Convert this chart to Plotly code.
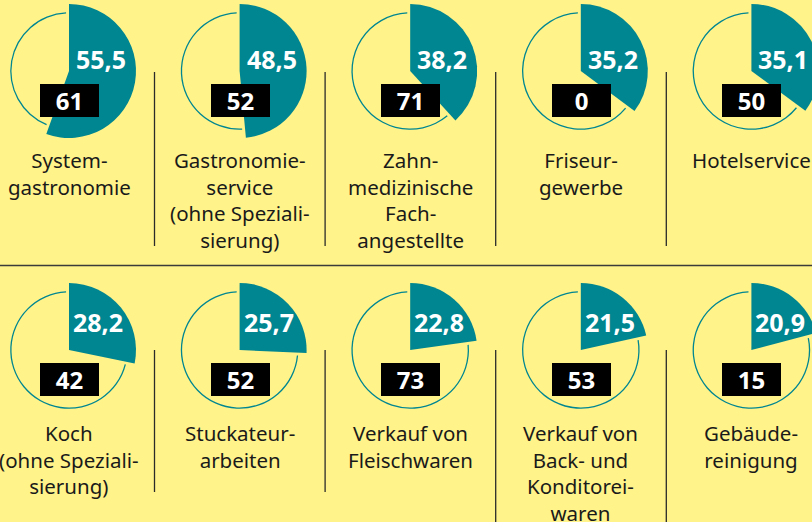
import plotly.graph_objects as go

# ---- data ----
categories = [
    "System-<br>gastronomie",
    "Gastronomie-<br>service<br>(ohne Speziali-<br>sierung)",
    "Zahn-<br>medizinische<br>Fach-<br>angestellte",
    "Friseur-<br>gewerbe",
    "Hotelservice",
    "Koch<br>(ohne Speziali-<br>sierung)",
    "Stuckateur-<br>arbeiten",
    "Verkauf von<br>Fleischwaren",
    "Verkauf von<br>Back- und<br>Konditorei-<br>waren",
    "Gebäude-<br>reinigung",
]
percent_values = [55.5, 48.5, 38.2, 35.2, 35.1, 28.2, 25.7, 22.8, 21.5, 20.9]
box_values = [61, 52, 71, 0, 50, 42, 52, 73, 53, 15]

# ---- style / layout ----
W, H = 830, 522          # canvas slightly wider than the 812 view: last column is cut like the original
BG = "#FFF38A"
TEAL = "#008691"
TXT = "#1A1A1A"
CLEAR = "rgba(0,0,0,0)"
FONT = "Noto Sans"

col_x = [69 + 170.6 * i for i in range(5)]
row_y = [71, 350]
R_WEDGE = 67
R_RING = 58.8
RING_W = 1.3
GAP = 0.8
label_top = [145, 418]

def px(x):
    return x / W

def py(y):
    return 1 - y / H

fig = go.Figure()

positions = []
for i in range(10):
    r, c = divmod(i, 5)
    positions.append((col_x[c], row_y[r], r))

# rings (complement arc)
for i, p in enumerate(percent_values):
    cx, cy, r = positions[i]
    fig.add_trace(go.Pie(
        values=[p + GAP, 100 - p - 2 * GAP, GAP],
        marker=dict(colors=[CLEAR, TEAL, CLEAR], line=dict(width=0)),
        hole=1 - RING_W / R_RING,
        sort=False, direction="clockwise", rotation=0,
        textinfo="none", hoverinfo="skip", showlegend=False,
        domain=dict(x=[px(cx - R_RING), px(cx + R_RING)],
                    y=[py(cy + R_RING), py(cy - R_RING)]),
    ))

# wedges
for i, p in enumerate(percent_values):
    cx, cy, r = positions[i]
    fig.add_trace(go.Pie(
        values=[p, 100 - p],
        marker=dict(colors=[TEAL, CLEAR], line=dict(width=0)),
        sort=False, direction="clockwise", rotation=0,
        textinfo="none", hoverinfo="skip", showlegend=False,
        domain=dict(x=[px(cx - R_WEDGE), px(cx + R_WEDGE)],
                    y=[py(cy + R_WEDGE), py(cy - R_WEDGE)]),
    ))

annotations = []
for i, p in enumerate(percent_values):
    cx, cy, r = positions[i]
    dx, dy = (32, -12) if r == 0 else (29, -28)
    annotations.append(dict(
        x=px(cx + dx), y=py(cy + dy), xref="paper", yref="paper",
        text=f"<b>{str(p).replace('.', ',')}</b>", showarrow=False,
        xanchor="center", yanchor="middle",
        font=dict(family=FONT, size=25, color="white"),
    ))
    dyb = 29.5 if r == 0 else 29
    annotations.append(dict(
        x=px(cx + 0.5), y=py(cy + dyb), xref="paper", yref="paper",
        text=f"<b>{box_values[i]}</b>", showarrow=False,
        xanchor="center", yanchor="middle",
        width=59, height=33, bgcolor="black", borderpad=0, borderwidth=0,
        align="center", valign="middle",
        font=dict(family=FONT, size=24, color="white"),
    ))
    annotations.append(dict(
        x=px(cx), y=py(label_top[r]), xref="paper", yref="paper",
        text=categories[i], showarrow=False,
        xanchor="center", yanchor="top", align="center", borderpad=0,
        font=dict(family=FONT, size=20.5, color=TXT),
    ))

shapes = []
sep_x = [154.5 + 170.6 * k for k in range(4)]
for k, sx in enumerate(sep_x):
    shapes.append(dict(type="line", xref="paper", yref="paper",
                       x0=px(sx), x1=px(sx), y0=py(72), y1=py(246),
                       line=dict(color="#2A2A2A", width=1.3)))
    yend = 492 if k < 2 else 522
    shapes.append(dict(type="line", xref="paper", yref="paper",
                       x0=px(sx), x1=px(sx), y0=py(350), y1=py(yend),
                       line=dict(color="#2A2A2A", width=1.3)))
shapes.append(dict(type="line", xref="paper", yref="paper",
                   x0=0, x1=1, y0=py(265.5), y1=py(265.5),
                   line=dict(color="#3A3A3A", width=1.6)))

fig.update_layout(
    width=W, height=H,
    margin=dict(l=0, r=0, t=0, b=0),
    paper_bgcolor=BG, plot_bgcolor=BG,
    annotations=annotations, shapes=shapes,
    showlegend=False,
)

fig.write_html(
    "out.html",
    config={"displayModeBar": False},
    post_script=(
        "document.body.style.margin='0';"
        "document.body.style.overflow='hidden';"
        "document.documentElement.style.overflow='hidden';"
    ),
)
